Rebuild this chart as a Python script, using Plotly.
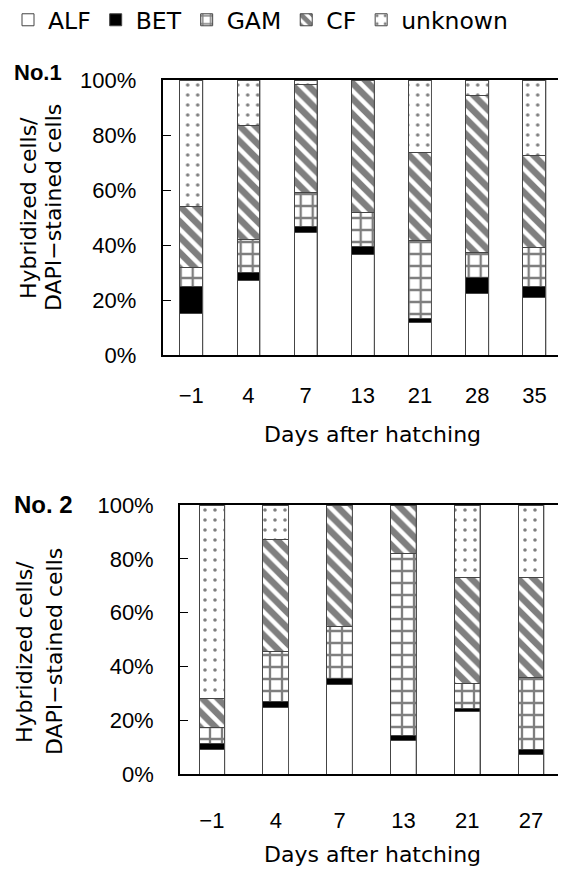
import plotly.graph_objects as go

# The page adds an 8 px body margin, so the figure is placed at (8, 8) in the window.
OFF = 8
W, H = 566 - OFF, 870 - OFF

# ---- data (segment heights, % of DAPI-stained cells) ----
days1 = ["−1", "4", "7", "13", "21", "28", "35"]
alf1 = [15.0, 27.0, 44.5, 36.5, 12.0, 22.5, 21.0]
bet1 = [10.0, 3.0, 2.2, 3.0, 1.3, 5.7, 4.0]
gam1 = [7.0, 12.0, 12.5, 12.5, 28.3, 9.0, 14.2]
cf1 = [22.0, 41.5, 39.3, 48.0, 32.0, 57.3, 33.2]
unk1 = [46.0, 16.5, 1.5, 0.0, 26.4, 5.5, 27.6]

days2 = ["−1", "4", "7", "13", "21", "27"]
alf2 = [9.2, 24.8, 33.1, 12.4, 23.2, 7.3]
bet2 = [2.0, 2.1, 2.5, 1.8, 1.0, 1.9]
gam2 = [6.1, 18.8, 19.4, 67.8, 9.5, 26.7]
cf2 = [10.6, 41.3, 45.0, 18.0, 39.3, 37.1]
unk2 = [72.1, 13.0, 0.0, 0.0, 27.0, 27.0]

series_names = ["ALF", "BET", "GAM", "CF", "unknown"]
yticks = [0, 20, 40, 60, 80, 100]

BAR_W = 0.4
styles = {
    "ALF": dict(color="white", pattern=dict(shape="")),
    "BET": dict(color="black", pattern=dict(shape="")),
    "GAM": dict(color="white", pattern=dict(shape="+", fgcolor="black", bgcolor="white", size=12, solidity=0.35)),
    "CF": dict(color="white", pattern=dict(shape="\\", fgcolor="black", bgcolor="white", size=11, solidity=0.6)),
    "unknown": dict(color="white", pattern=dict(shape=".", fgcolor="black", bgcolor="white", size=10, solidity=0.1)),
}

def px_x(p):
    return (p - OFF) / W

def px_y(p):
    return 1 - (p - OFF) / H

fig = go.Figure()

panels = [
    (days1, [alf1, bet1, gam1, cf1, unk1], "x", "y", True),
    (days2, [alf2, bet2, gam2, cf2, unk2], "x2", "y2", False),
]
for days, vals, xa, ya, show in panels:
    for name, v in zip(series_names, vals):
        st = styles[name]
        fig.add_trace(go.Bar(
            x=days, y=v, name=name, xaxis=xa, yaxis=ya, width=BAR_W,
            legendgroup=name, showlegend=show,
            marker=dict(color=st["color"], pattern=st["pattern"],
                        line=dict(color="#444", width=1)),
        ))
    # thin full-height lines at the right edge of each bar
    for i in range(len(days)):
        fig.add_shape(type="line", xref=xa, yref=ya,
                      x0=i + BAR_W / 2, x1=i + BAR_W / 2, y0=0, y1=100,
                      line=dict(color="#555", width=1))

TICKFONT = dict(family="Liberation Sans, Arial, sans-serif", size=22, color="black")
TEXTFONT = dict(family="DejaVu Sans, sans-serif", size=22, color="black")

axis_common = dict(showline=True, linecolor="black", linewidth=1.8, mirror=True,
                   showgrid=False, zeroline=False, automargin=False)

fig.update_layout(
    width=W, height=H,
    margin=dict(l=0, r=0, t=0, b=0, autoexpand=False),
    paper_bgcolor="white", plot_bgcolor="white",
    barmode="stack",
    showlegend=True,
    legend=dict(orientation="h", x=0.0, xanchor="left", y=1 + 10 / H, yanchor="top",
                traceorder="normal",
                font=dict(family="DejaVu Sans, sans-serif", size=23.5, color="black")),
    xaxis=dict(domain=[px_x(162.7), px_x(563)], anchor="y", ticks="",
               tickfont=TICKFONT, ticklabelstandoff=20, **axis_common),
    yaxis=dict(domain=[px_y(355), px_y(80)], anchor="x", range=[0, 100],
               tickvals=yticks, ticktext=[f"{t}%" for t in yticks],
               ticks="inside", ticklen=8, tickcolor="black",
               tickfont=TICKFONT, ticklabelstandoff=20, **axis_common),
    xaxis2=dict(domain=[px_x(180), px_x(563)], anchor="y2", ticks="",
                tickfont=TICKFONT, ticklabelstandoff=26, **axis_common),
    yaxis2=dict(domain=[px_y(774), px_y(505)], anchor="x2", range=[0, 100],
                tickvals=yticks, ticktext=[f"{t}%" for t in yticks],
                ticks="inside", ticklen=8, tickcolor="black",
                tickfont=TICKFONT, ticklabelstandoff=20, **axis_common),
)

ann = []
# panel labels
ann.append(dict(text="<b>No.1</b>", x=px_x(12), y=px_y(72), xanchor="left", yanchor="middle",
                font=dict(family="Liberation Sans, Arial, sans-serif", size=22, color="black")))
ann.append(dict(text="<b>No. 2</b>", x=px_x(12), y=px_y(504), xanchor="left", yanchor="middle",
                font=dict(family="Liberation Sans, Arial, sans-serif", size=24, color="black")))
# y-axis titles (two lines each)
for cx1, cx2, cy in [(28, 53, 208), (24, 54, 652)]:
    ann.append(dict(text="Hybridized cells/", x=px_x(cx1), y=px_y(cy), textangle=-90,
                    xanchor="center", yanchor="middle", font=TEXTFONT))
    ann.append(dict(text="DAPI−stained cells", x=px_x(cx2), y=px_y(cy), textangle=-90,
                    xanchor="center", yanchor="middle", font=TEXTFONT))
# x-axis titles
for cy in [434, 854]:
    ann.append(dict(text="Days after hatching", x=px_x(372), y=px_y(cy),
                    xanchor="center", yanchor="middle", font=TEXTFONT))
for a in ann:
    a.update(xref="paper", yref="paper", showarrow=False)
fig.update_layout(annotations=ann)

fig.write_html("out.html")
